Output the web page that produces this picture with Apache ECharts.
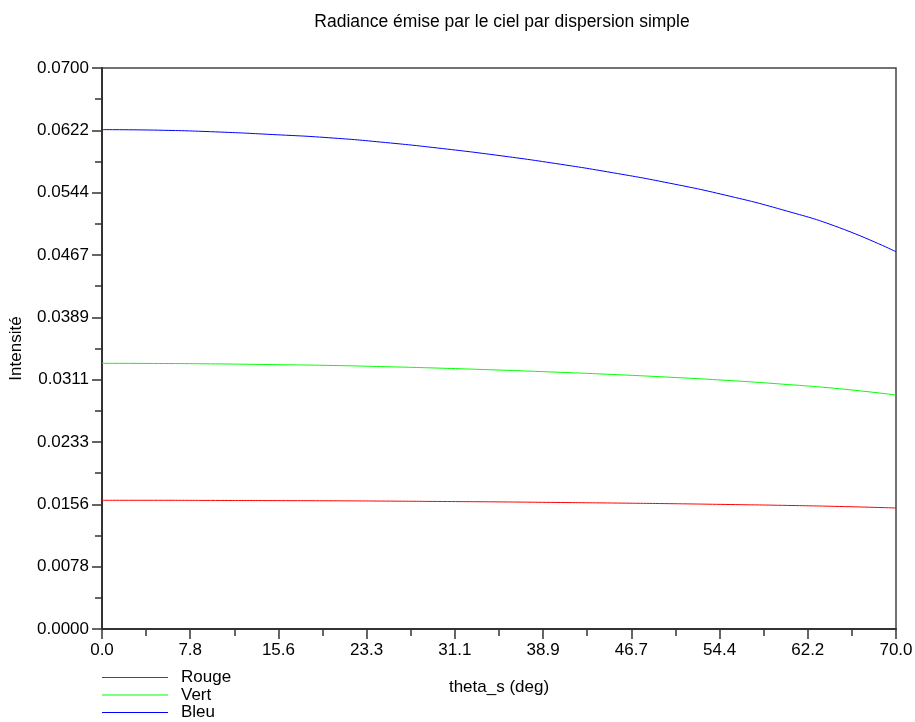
<!DOCTYPE html>
<html>
<head>
<meta charset="utf-8">
<script src="https://cdn.jsdelivr.net/npm/echarts@6/dist/echarts.min.js"></script>
<style>
  html, body { margin: 0; padding: 0; background: #fff; }
  #chart { width: 915px; height: 722px; }
</style>
</head>
<body>
<div id="chart"></div>
<script>
// Solar zenith angle samples (deg)
const thetaS = [0, 5, 10, 15, 20, 25, 30, 35, 40, 45, 50, 55, 60, 65, 70];

// Single-scattering sky radiance per channel
const rouge = [0.01606, 0.01606, 0.01604, 0.01602, 0.01600, 0.01596, 0.01591, 0.01586,
               0.01579, 0.01572, 0.01564, 0.01554, 0.01543, 0.01529, 0.01510];
const vert  = [0.03315, 0.03313, 0.03308, 0.03299, 0.03289, 0.03273, 0.03254, 0.03231,
               0.03205, 0.03176, 0.03142, 0.03103, 0.03055, 0.02998, 0.02920];
const bleu  = [0.06231, 0.06224, 0.06203, 0.06170, 0.06130, 0.06070, 0.05995, 0.05908,
               0.05808, 0.05694, 0.05564, 0.05412, 0.05230, 0.05008, 0.04708];

const seriesNames = ['Rouge', 'Vert', 'Bleu'];
const seriesColors = ['#ff0000', '#00ff00', '#0000ff'];

// Axis ranges: both axes split into 9 equal steps
const xMax = 70, yMax = 0.07, steps = 9;

const pairs = arr => thetaS.map((t, i) => [t, arr[i]]);
const FONT = '"Liberation Sans", Arial, sans-serif';
const FS = 17;
const AXIS_COLOR = '#333';

// One legend block per series, stacked under the lower-left corner
const legendTop = 669, legendStep = 17.5;
const legends = seriesNames.map((name, i) => ({
  orient: 'vertical',
  left: 102,
  top: legendTop + i * legendStep,
  padding: 0,
  itemWidth: 66,
  itemHeight: 1,
  icon: 'rect',
  data: [{ name, itemStyle: { color: seriesColors[i] } }],
  textStyle: { fontFamily: FONT, fontSize: FS, color: '#000', padding: [0, 0, 0, 8], lineHeight: 17 }
}));

const chart = echarts.init(document.getElementById('chart'), null, { renderer: 'canvas' });

chart.setOption({
  animation: false,
  backgroundColor: '#fff',
  textStyle: { fontFamily: FONT },
  title: {
    text: 'Radiance émise par le ciel par dispersion simple',
    left: 497,
    top: 8,
    textAlign: 'center',
    textStyle: { fontFamily: FONT, fontSize: 17.5, fontWeight: 'normal', color: '#000' }
  },
  grid: {
    left: 102, right: 19, top: 68, bottom: 93,
    containLabel: false,
    outerBoundsMode: 'none',
    show: true,
    borderColor: '#444',
    borderWidth: 1.5,
    backgroundColor: 'transparent'
  },
  legend: legends,
  xAxis: {
    type: 'value',
    min: 0,
    max: xMax,
    interval: xMax / steps,
    name: 'theta_s (deg)',
    nameLocation: 'middle',
    nameGap: 50,
    nameTextStyle: { fontFamily: FONT, fontSize: FS, color: '#000' },
    axisLine: { show: true, lineStyle: { color: AXIS_COLOR, width: 2 } },
    axisTick: { show: true, inside: false, length: 10, lineStyle: { color: AXIS_COLOR, width: 1.5 } },
    minorTick: { show: true, splitNumber: 2, length: 7, lineStyle: { color: AXIS_COLOR, width: 1.5 } },
    splitLine: { show: false },
    axisLabel: {
      margin: 13,
      fontFamily: FONT,
      fontSize: FS,
      color: '#000',
      formatter: v => v.toFixed(1)
    }
  },
  yAxis: {
    type: 'value',
    min: 0,
    max: yMax,
    interval: yMax / steps,
    name: 'Intensité',
    nameLocation: 'middle',
    nameGap: 77,
    nameRotate: 90,
    nameTextStyle: { fontFamily: FONT, fontSize: FS, color: '#000' },
    axisLine: { show: true, lineStyle: { color: AXIS_COLOR, width: 2 } },
    axisTick: { show: true, inside: false, length: 10, lineStyle: { color: AXIS_COLOR, width: 1.5 } },
    minorTick: { show: true, splitNumber: 2, length: 7, lineStyle: { color: AXIS_COLOR, width: 1.5 } },
    splitLine: { show: false },
    axisLabel: {
      margin: 13,
      fontFamily: FONT,
      fontSize: FS,
      color: '#000',
      formatter: v => v.toFixed(4)
    }
  },
  series: [rouge, vert, bleu].map((arr, i) => ({
    name: seriesNames[i],
    type: 'line',
    data: pairs(arr),
    smooth: 0.5,
    showSymbol: false,
    symbol: 'none',
    color: seriesColors[i],
    lineStyle: { color: seriesColors[i], width: 1 }
  }))
});
</script>
</body>
</html>
